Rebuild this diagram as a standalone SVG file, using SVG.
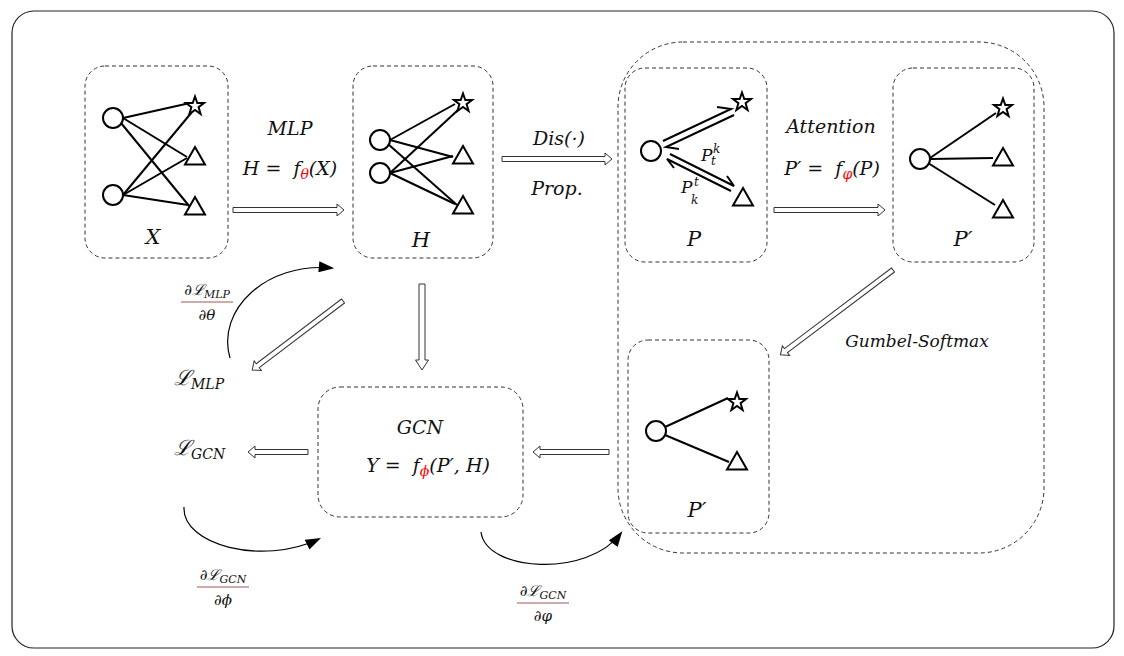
<svg xmlns="http://www.w3.org/2000/svg" width="1124" height="656" viewBox="0 0 1124 656">
<style>
.frame{fill:#fff;stroke:#222;stroke-width:1.2}
.box{fill:none;stroke:#333;stroke-width:1;stroke-dasharray:4 3}
.e{stroke:#000;stroke-width:2;fill:none}
.nd{fill:#fff;stroke:#000;stroke-width:2}
.ha{fill:#fff;stroke:#333;stroke-width:1}
.cv{fill:none;stroke:#000;stroke-width:1.2}
.t{font-family:"DejaVu Serif","Liberation Serif",serif;font-style:italic;fill:#111}
.m{font-size:19px;text-anchor:middle}
.lb{font-size:21px;text-anchor:middle}
.fr{font-size:15px;text-anchor:middle}
.red{fill:#ff0000}
.fl{stroke:#9a5a50;stroke-width:1}
</style>
<defs>
<path id="star" d="M0,-9.5 L2.3,-3 L9,-3 L3.6,1.2 L5.6,8 L0,4 L-5.6,8 L-3.6,1.2 L-9,-3 L-2.3,-3 Z" class="nd" stroke-linejoin="miter"/>
<path id="tri" d="M0,-9 L10,8.5 L-10,8.5 Z" class="nd"/>
<marker id="ah" viewBox="0 0 14 10" refX="12" refY="5" markerWidth="16" markerHeight="11" orient="auto" markerUnits="userSpaceOnUse"><path d="M0,0 L14,5 L0,10 Z" fill="#000"/></marker>
</defs>
<rect class="frame" x="12" y="11" width="1102" height="637" rx="22"/>

<g id="group-outline"><rect class="box" x="618" y="42" width="426" height="511" rx="65"/></g>

<g id="node-X">
<rect class="box" x="85" y="66" width="143" height="192" rx="20"/>
<line class="e" x1="123" y1="118" x2="190" y2="103"/>
<line class="e" x1="123" y1="118" x2="187" y2="157"/>
<line class="e" x1="121" y1="123" x2="190" y2="207"/>
<line class="e" x1="123" y1="195" x2="192" y2="112"/>
<line class="e" x1="123" y1="195" x2="187" y2="158"/>
<line class="e" x1="123" y1="195" x2="188" y2="205"/>
<circle class="nd" cx="113" cy="118" r="10"/>
<circle class="nd" cx="113" cy="195" r="10"/>
<use href="#star" x="195" y="106"/>
<use href="#tri" x="195" y="156"/>
<use href="#tri" x="195" y="206"/>
<text class="t lb" x="153" y="244">X</text>
</g>

<g id="node-H">
<rect class="box" x="353" y="66" width="140" height="192" rx="20"/>
<line class="e" x1="390" y1="140" x2="455" y2="104"/>
<line class="e" x1="390" y1="140" x2="453" y2="157"/>
<line class="e" x1="388" y1="144" x2="457" y2="205"/>
<line class="e" x1="390" y1="173" x2="458" y2="110"/>
<line class="e" x1="390" y1="173" x2="453" y2="156"/>
<line class="e" x1="390" y1="173" x2="455" y2="204"/>
<circle class="nd" cx="380" cy="140" r="10"/>
<circle class="nd" cx="380" cy="173" r="10"/>
<use href="#star" x="463" y="103"/>
<use href="#tri" x="463" y="155"/>
<use href="#tri" x="463" y="205"/>
<text class="t lb" x="421" y="247">H</text>
</g>

<g id="node-P">
<rect class="box" x="625" y="68" width="142" height="194" rx="20"/>
<polyline class="e" points="663,141 731,109 717,107"/>
<polyline class="e" points="734,115 666,147 679,149"/>
<polyline class="e" points="670,154 734,186 727,176"/>
<polyline class="e" points="731,191 667,159 674,168"/>
<circle class="nd" cx="651" cy="151" r="10"/>
<use href="#star" x="742" y="102"/>
<use href="#tri" x="743" y="197"/>
<text class="t" font-size="17" x="701" y="161">P</text>
<text class="t" font-size="12" x="713" y="153">k</text>
<text class="t" font-size="12" x="711" y="165">t</text>
<text class="t" font-size="17" x="681" y="193">P</text>
<text class="t" font-size="12" x="694" y="186">t</text>
<text class="t" font-size="12" x="691" y="204">k</text>
<text class="t lb" x="694" y="246">P</text>
</g>

<g id="node-Pprime">
<rect class="box" x="893" y="68" width="141" height="194" rx="20"/>
<line class="e" x1="930" y1="158" x2="996" y2="113"/>
<line class="e" x1="930" y1="159" x2="993" y2="158"/>
<line class="e" x1="928" y1="163" x2="995" y2="205"/>
<circle class="nd" cx="920" cy="159" r="10"/>
<use href="#star" x="1003" y="108"/>
<use href="#tri" x="1003" y="157"/>
<use href="#tri" x="1003" y="209"/>
<text class="t lb" x="963" y="246">P′</text>
</g>

<g id="node-Pprime2">
<rect class="box" x="628" y="340" width="141" height="193" rx="20"/>
<line class="e" x1="665" y1="427" x2="728" y2="398"/>
<line class="e" x1="665" y1="435" x2="729" y2="462"/>
<circle class="nd" cx="656" cy="431" r="10"/>
<use href="#star" x="737" y="402"/>
<use href="#tri" x="737" y="461"/>
<text class="t lb" x="697" y="517">P′</text>
</g>

<g id="node-GCN">
<rect class="box" x="318" y="387" width="205" height="130" rx="22"/>
<text class="t m" x="420" y="434">GCN</text>
<text class="t m" x="428" y="472" xml:space="preserve">Y =  f<tspan class="red" font-size="14" dy="4">ϕ</tspan><tspan dy="-4">(P′, H)</tspan></text>
</g>

<g id="node-Lmlp"><text class="t" font-size="21" x="174" y="385">ℒ<tspan font-size="14" dy="4">MLP</tspan></text></g>
<g id="node-Lgcn"><text class="t" font-size="21" x="174" y="455">ℒ<tspan font-size="14" dy="4">GCN</tspan></text></g>

<g id="connectors">
<polygon class="ha" transform="translate(233,210)" points="0,-2.5 104,-2.5 104,-6 111,0 104,6 104,2.5 0,2.5"/>
<polygon class="ha" transform="translate(502,159)" points="0,-2.5 103,-2.5 103,-6 110,0 103,6 103,2.5 0,2.5"/>
<polygon class="ha" transform="translate(774,210)" points="0,-2.5 104,-2.5 104,-6 111,0 104,6 104,2.5 0,2.5"/>
<polygon class="ha" transform="translate(893,270) rotate(143)" points="0,-2.5 134,-2.5 134,-6 141,0 134,6 134,2.5 0,2.5"/>
<polygon class="ha" transform="translate(422,284) rotate(90)" points="0,-3 76,-3 76,-6.5 86,0 76,6.5 76,3 0,3"/>
<polygon class="ha" transform="translate(343,301) rotate(142.8)" points="0,-2.5 107,-2.5 107,-6 114,0 107,6 107,2.5 0,2.5"/>
<polygon class="ha" transform="translate(609,452) rotate(180)" points="0,-2.5 69,-2.5 69,-6 76,0 69,6 69,2.5 0,2.5"/>
<polygon class="ha" transform="translate(308,452) rotate(180)" points="0,-2.5 53,-2.5 53,-6 60,0 53,6 53,2.5 0,2.5"/>
<path class="cv" d="M230,358 C216,310 266,262 332,268" marker-end="url(#ah)"/>
<path class="cv" d="M184,507 C182,545 262,566 319,539" marker-end="url(#ah)"/>
<path class="cv" d="M481,532 C486,572 588,578 621,533" marker-end="url(#ah)"/>
</g>

<g id="labels">
<text class="t m" x="290" y="135">MLP</text>
<text class="t m" x="290" y="175" xml:space="preserve">H =  f<tspan class="red" font-size="14" dy="4">θ</tspan><tspan dy="-4">(X)</tspan></text>
<text class="t m" x="559" y="145">Dis(·)</text>
<text class="t m" x="557" y="195">Prop.</text>
<text class="t m" x="831" y="133">Attention</text>
<text class="t m" x="832" y="175" xml:space="preserve">P′ =  f<tspan class="red" font-size="14" dy="4">φ</tspan><tspan dy="-4">(P)</tspan></text>
<text class="t" font-size="17" text-anchor="middle" x="917" y="347">Gumbel-Softmax</text>
<text class="t fr" x="207" y="295">∂ℒ<tspan font-size="11" dy="3">MLP</tspan></text>
<line class="fl" x1="181" y1="302" x2="233" y2="302"/>
<text class="t fr" x="207" y="320">∂θ</text>
<text class="t fr" x="223" y="580">∂ℒ<tspan font-size="11" dy="3">GCN</tspan></text>
<line class="fl" x1="197" y1="587" x2="249" y2="587"/>
<text class="t fr" x="223" y="605">∂ϕ</text>
<text class="t fr" x="543" y="596">∂ℒ<tspan font-size="11" dy="3">GCN</tspan></text>
<line class="fl" x1="517" y1="603" x2="569" y2="603"/>
<text class="t fr" x="543" y="621">∂φ</text>
</g>
</svg>
